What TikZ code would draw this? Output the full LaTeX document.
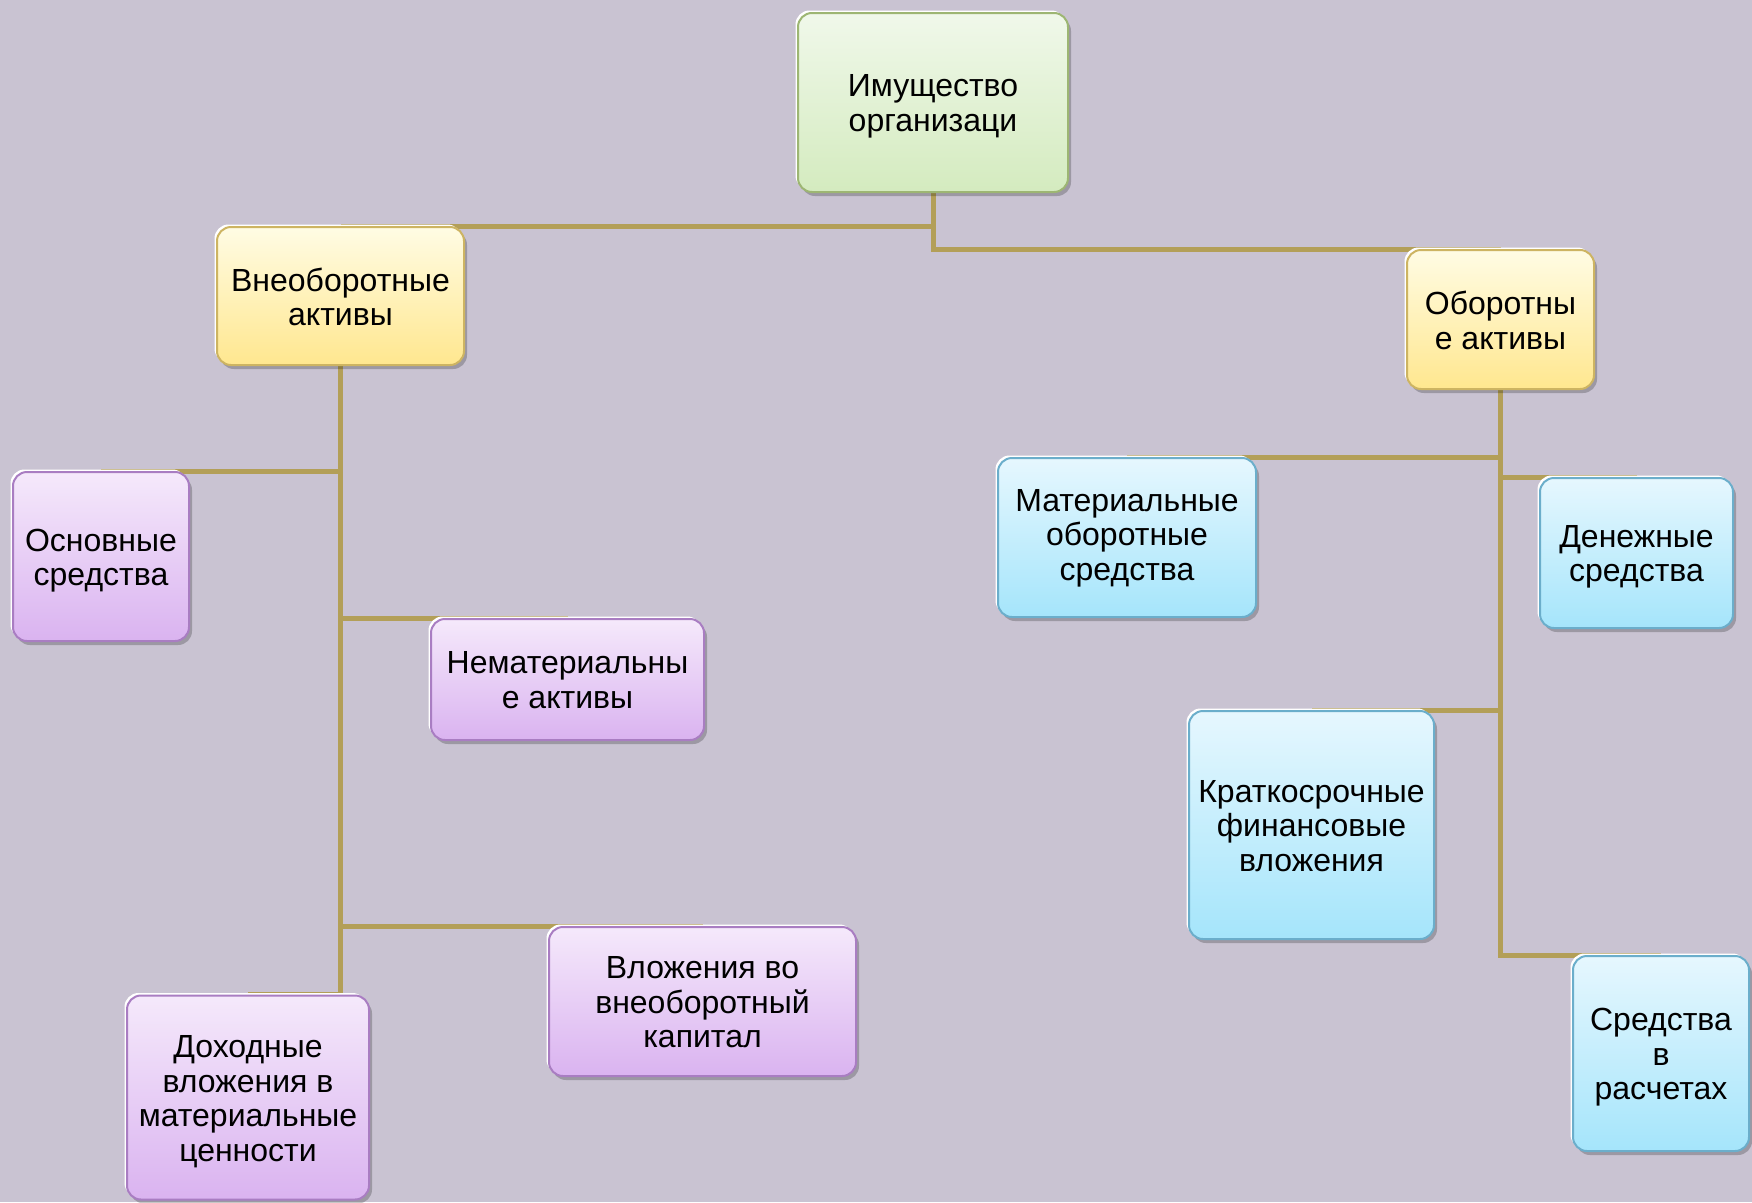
\documentclass[tikz,border=0pt]{standalone}
\usepackage{fontspec}
\setmainfont{Liberation Sans}
\usetikzlibrary{shadows}
\pgfdeclarelayer{bg}
\pgfdeclarelayer{edges}
\pgfsetlayers{bg,edges,main}
\definecolor{bgcol}{HTML}{C9C3D2}
\definecolor{linecol}{HTML}{B39F58}
\definecolor{gTop}{HTML}{F0F8EA}\definecolor{gBot}{HTML}{D4EBBF}\definecolor{gBrd}{HTML}{9DB673}
\definecolor{yTop}{HTML}{FFFCE4}\definecolor{yBot}{HTML}{FFE78F}\definecolor{yBrd}{HTML}{CDB462}
\definecolor{pTop}{HTML}{F5E9FB}\definecolor{pBot}{HTML}{DAB3F0}\definecolor{pBrd}{HTML}{A97DC2}
\definecolor{bTop}{HTML}{E6F7FE}\definecolor{bBot}{HTML}{A5E5FB}\definecolor{bBrd}{HTML}{6BAECB}
\tikzset{
  box/.style={rounded corners=14pt, line width=2pt, inner sep=0pt,
    general shadow={shadow xshift=3pt, shadow yshift=-4pt, fill=black, opacity=0.22},
    general shadow={shadow xshift=-2.5pt, shadow yshift=2.5pt, fill=white}},
  lbl/.style={align=center, inner sep=0pt,
    font=\fontsize{32}{34.5}\selectfont},
  txt/.style={label={[lbl, yshift=-4pt]center:{#1}}},
  txthi/.style={label={[lbl, yshift=-0.8pt]center:{#1}}},
  greenbox/.style={box, draw=gBrd, top color=gTop, bottom color=gBot},
  yellowbox/.style={box, draw=yBrd, top color=yTop, bottom color=yBot},
  purplebox/.style={box, draw=pBrd, top color=pTop, bottom color=pBot},
  bluebox/.style={box, draw=bBrd, top color=bTop, bottom color=bBot},
  conn/.style={draw=linecol, line width=5pt},
  sz/.style 2 args={minimum width=#1pt, minimum height=#2pt}
}
\begin{document}
\begin{tikzpicture}[x=1pt,y=-1pt]
\begin{pgfonlayer}{bg}
  \fill[bgcol] (0,0) rectangle (1752,1202);
\end{pgfonlayer}
\useasboundingbox (0,0) rectangle (1752,1202);

\node[greenbox, sz={270}{179}, txt={Имущество\\организаци}] (root) at (933,102.5) {};

\node[yellowbox, sz={247}{138}, txthi={Внеоборотные\\активы}] (vne) at (340.5,296) {};
\node[yellowbox, sz={187}{139}, txthi={Оборотны\\е активы}] (obo) at (1500.5,319.5) {};

\node[purplebox, sz={176}{169}, txt={Основные\\средства}] (osn) at (101,556.5) {};
\node[purplebox, sz={273}{121}, txthi={Нематериальны\\е активы}] (nem) at (567.5,679.5) {};
\node[purplebox, sz={307}{149}, txthi={Вложения во\\внеоборотный\\капитал}] (vlo) at (702.5,1001.5) {};
\node[purplebox, sz={242}{204}, txt={Доходные\\вложения в\\материальные\\ценности}] (doh) at (248,1097.5) {};

\node[bluebox, sz={258}{159}, txthi={Материальные\\оборотные\\средства}] (mat) at (1127,537.5) {};
\node[bluebox, sz={193}{150}, txt={Денежные\\средства}] (den) at (1636.5,553) {};
\node[bluebox, sz={245}{228}, txthi={Краткосрочные\\финансовые\\вложения}] (kra) at (1311.5,825) {};
\node[bluebox, sz={176}{195}, txt={Средства\\в\\расчетах}] (sre) at (1661,1053.5) {};

\begin{pgfonlayer}{edges}
  \draw[conn] (root.south) |- (vne.north);
  \draw[conn] (root.south) |- (obo.north);
  \draw[conn] (vne.south) |- (osn.north);
  \draw[conn] (vne.south) |- (nem.north);
  \draw[conn] (vne.south) |- (vlo.north);
  \draw[conn] (vne.south) |- (doh.north);
  \draw[conn] (obo.south) |- (mat.north);
  \draw[conn] (obo.south) |- (den.north);
  \draw[conn] (obo.south) |- (kra.north);
  \draw[conn] (obo.south) |- (sre.north);
\end{pgfonlayer}
\end{tikzpicture}
\end{document}
